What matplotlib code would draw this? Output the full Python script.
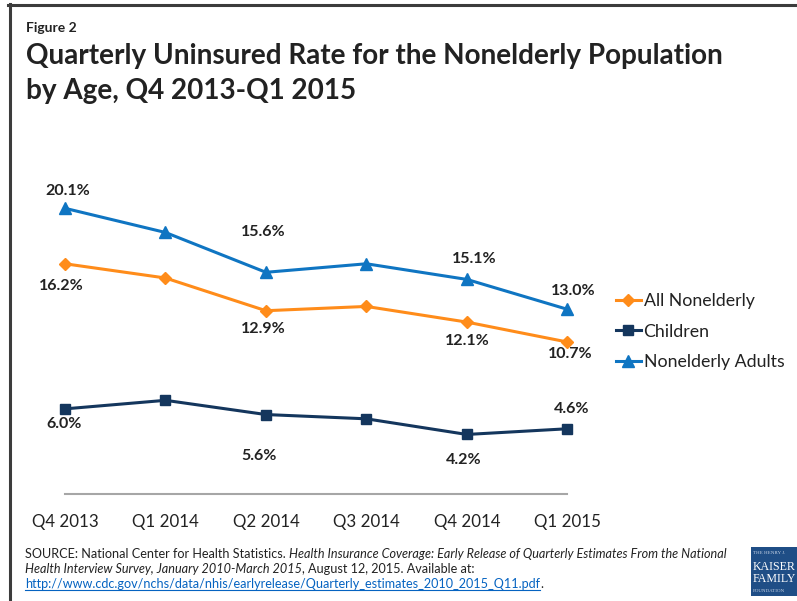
import matplotlib
matplotlib.use('Agg')
import matplotlib.pyplot as plt
from matplotlib.patches import Rectangle
from matplotlib.lines import Line2D

# ---------------- data ----------------
quarters = ['Q4 2013', 'Q1 2014', 'Q2 2014', 'Q3 2014', 'Q4 2014', 'Q1 2015']
all_nonelderly = [16.2, 15.2, 12.9, 13.2, 12.1, 10.7]
children = [6.0, 6.6, 5.6, 5.3, 4.2, 4.6]
nonelderly_adults = [20.1, 18.4, 15.6, 16.2, 15.1, 13.0]
series_names = ['All Nonelderly', 'Children', 'Nonelderly Adults']
labeled_idx = [0, 2, 4, 5]

# ---------------- layout / style ----------------
W, H = 797, 601
plt.rcParams['font.family'] = ['Lato', 'DejaVu Sans']
fig = plt.figure(figsize=(W / 100, H / 100), dpi=100)


def fx(px):
    return px / W


def fy(py):
    return 1 - py / H


TXT = '#222222'
colors = ['#FF8C1A', '#14365D', '#0F75C2']
markers = ['D', 's', '^']
msizes = [6, 7, 8]
# label offsets in pixels (dx, dy) for labeled points, per series
label_offsets = [
    [(-4, 22), (-3, 18), (0, 19), (3, 12)],
    [(-1, 15), (-7, 41), (-3, 26), (4, -20)],
    [(3, -17), (-3, -40), (7, -20), (6, -18)],
]

ax = fig.add_axes([fx(65), fy(494.2), fx(567.3) - fx(65), fy(138.6) - fy(494.2)])
x = list(range(len(quarters)))
series = [all_nonelderly, children, nonelderly_adults]
for vals, name, c, m, ms, offs in zip(series, series_names, colors, markers, msizes, label_offsets):
    ax.plot(x, vals, color=c, lw=2.2, marker=m, markersize=ms, label=name,
            clip_on=False, zorder=3)
    for i, (dx, dy) in zip(labeled_idx, offs):
        ax.annotate(f'{vals[i]:.1f}%', (x[i], vals[i]), xytext=(dx * 0.72, -dy * 0.72),
                    textcoords='offset points', ha='center', va='center',
                    fontsize=11.5, fontweight='bold', color=TXT)

ax.set_xlim(0, len(quarters) - 1)
ax.set_ylim(0, 25)
ax.set_xticks(x)
ax.set_xticklabels(quarters, fontsize=12.2, color=TXT)
ax.set_yticks([])
ax.tick_params(axis='x', length=0, pad=14)
for s in ['top', 'left', 'right']:
    ax.spines[s].set_visible(False)
ax.spines['bottom'].set_color('#A6A6A6')
ax.spines['bottom'].set_linewidth(1.5)
ax.patch.set_alpha(0)

leg = ax.legend(loc='center left', bbox_to_anchor=(fx(616), fy(331.7)),
                bbox_transform=fig.transFigure, frameon=False, fontsize=12.8,
                handlelength=1.4, handletextpad=0.15, labelspacing=0.8,
                borderpad=0, borderaxespad=0)
for t in leg.get_texts():
    t.set_color(TXT)

# ---------------- frame ----------------
fig.add_artist(Line2D([fx(8), fx(800)], [fy(5), fy(5)], color='#3C3C3C', lw=2.2))
fig.add_artist(Line2D([fx(9.5), fx(9.5)], [fy(4), fy(605)], color='#3C3C3C', lw=2.2))

# ---------------- titles ----------------
fig.text(fx(26), fy(32.5), 'Figure 2', fontsize=10, fontweight='bold', color=TXT, va='baseline')
fig.text(fx(26), fy(64), 'Quarterly Uninsured Rate for the Nonelderly Population',
         fontsize=20.1, fontweight='bold', color=TXT, va='baseline')
fig.text(fx(26), fy(99), 'by Age, Q4 2013-Q1 2015',
         fontsize=20.1, fontweight='bold', color=TXT, va='baseline')

# ---------------- source (mixed styles) ----------------
renderer = fig.canvas.get_renderer()


def seg_width(txt, **kw):
    a = fig.text(0, 0, 'x' + txt + 'x', **kw)
    b = fig.text(0, 0, 'xx', **kw)
    w = a.get_window_extent(renderer).width - b.get_window_extent(renderer).width
    a.remove()
    b.remove()
    return w


def draw_line(x0, yb, segs, size=9.05):
    xx = x0
    for txt, style, color, ul in segs:
        kw = dict(fontsize=size, style=style, color=color)
        fig.text(fx(xx), fy(yb), txt, va='baseline', ha='left', **kw)
        w = seg_width(txt, **kw)
        if ul:
            fig.add_artist(Line2D([fx(xx), fx(xx + w)], [fy(yb + 2), fy(yb + 2)],
                                  color=color, lw=0.8))
        xx += w


LINK = '#0563C1'
draw_line(25, 558.5, [
    ('SOURCE: National Center for Health Statistics. ', 'normal', TXT, False),
    ('Health Insurance Coverage: Early Release of Quarterly Estimates From the National', 'italic', TXT, False),
])
draw_line(25, 573, [
    ('Health Interview Survey, January 2010-March 2015', 'italic', TXT, False),
    (', August 12, 2015. Available at:', 'normal', TXT, False),
])
draw_line(25, 588, [
    ('http://www.cdc.gov/nchs/data/nhis/earlyrelease/Quarterly_estimates_2010_2015_Q11.pdf', 'normal', LINK, True),
    ('.', 'normal', TXT, False),
])

# ---------------- logo ----------------
fig.add_artist(Rectangle((fx(751), fy(596)), fx(60), fy(546.5) - fy(596),
                         facecolor='#1F4E86', edgecolor='none'))
serif = ['Liberation Serif', 'DejaVu Serif']
fig.text(fx(753), fy(554), 'THE HENRY J.', fontsize=3.6, family=serif, color='#C8D4E6', va='baseline')
fig.text(fx(752.5), fy(570.5), 'KAISER', fontsize=8.6, family=serif, color='white', va='baseline')
fig.text(fx(752.5), fy(582.5), 'FAMILY', fontsize=8.6, family=serif, color='white', va='baseline')
fig.text(fx(753), fy(592), 'FOUNDATION', fontsize=3.6, family=serif, color='#C8D4E6', va='baseline')

fig.savefig('out.png', dpi=100)
